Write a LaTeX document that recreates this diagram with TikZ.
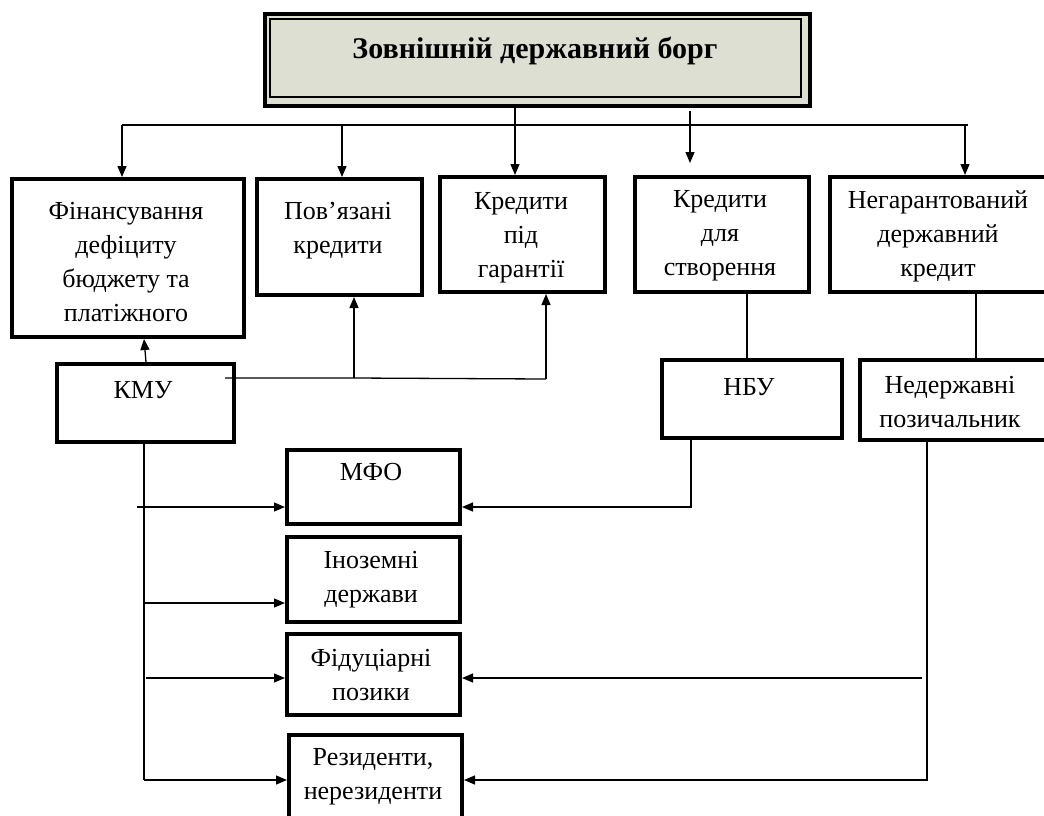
\documentclass[tikz,border=0pt]{standalone}
\usepackage{fontspec}
\setmainfont{Liberation Serif}
\usetikzlibrary{arrows.meta}
\definecolor{titlefill}{HTML}{DDDFD3}
\begin{document}
\begin{tikzpicture}[x=1pt,y=-1pt,
  box/.style={draw=black, line width=4pt, rectangle, inner sep=0pt, anchor=north west},
  txt/.style={font=\fontsize{26}{34}\selectfont, align=center, inner sep=0pt},
  conn/.style={draw=black, line width=1.3pt},
  arr/.style={conn, -{Triangle[length=11pt,width=9pt]}}]
\clip (0,0) rectangle (1044,815);
\fill[white] (0,0) rectangle (1044,815);

% title
\node[box, fill=titlefill, minimum width=545pt, minimum height=92pt] (title) at (263,12) {};
\draw[line width=1.5pt] (270,19) rectangle (801,97);
\node[txt, font=\fontsize{30}{34}\selectfont\bfseries] (titlet) at (535,51) {Зовнішній державний борг};

% top row boxes
\node[box, minimum width=232pt, minimum height=158pt] (fin) at (10,177) {};
\node[box, minimum width=165pt, minimum height=116pt] (pov) at (255,177) {};
\node[box, minimum width=165pt, minimum height=115pt] (gar) at (438,175) {};
\node[box, minimum width=174pt, minimum height=115pt] (stv) at (633,175) {};
\node[box, minimum width=240pt, minimum height=115pt] (neg) at (828,175) {};

\node[txt] (fint) at (126,262) {Фінансування\\дефіциту\\бюджету та\\платіжного};
\node[txt] (povt) at (338,231) {Пов’язані\\кредити};
\node[txt] (gart) at (521,238) {Кредити\\під\\гарантії};
\node[txt] (stvt) at (720,236) {Кредити\\для\\створення};
\node[txt] (negt) at (938,236) {Негарантований\\державний\\кредит};

% second row
\node[box, minimum width=177pt, minimum height=78pt] (kmu) at (55,362) {};
\node[box, minimum width=180pt, minimum height=78pt] (nbu) at (660,358) {};
\node[box, minimum width=220pt, minimum height=80pt] (ned) at (858,358) {};
\node[txt] (kmut) at (143,390) {КМУ};
\node[txt] (nbut) at (749,387) {НБУ};
\node[txt] (nedt) at (950,402) {Недержавні\\позичальник};

% lower boxes
\node[box, minimum width=173pt, minimum height=74pt] (mfo) at (285,448) {};
\node[box, minimum width=173pt, minimum height=85pt] (ino) at (285,535) {};
\node[box, minimum width=173pt, minimum height=81pt] (fid) at (285,632) {};
\node[box, minimum width=173pt, minimum height=100pt] (rez) at (287,733) {};
\node[txt] (mfot) at (371,472) {МФО};
\node[txt] (inot) at (371,580) {Іноземні\\держави};
\node[txt] (fidt) at (371,675) {Фідуціарні\\позики};
\node[txt] (rezt) at (373,777) {Резиденти,\\нерезиденти};

% top bus
\coordinate (bL) at (122,125);
\coordinate (bR) at (968,125);
\draw[conn] (bL) -- (bR);
\coordinate (b1) at (122,125);
\coordinate (b2) at (342,125);
\coordinate (b5) at (965,125);
\draw[arr] (b1) -- (b1 |- fin.north);
\draw[arr] (b2) -- (b2 |- pov.north);
\draw[arr] (title.south -| 515,0) -- (515,0 |- gar.north);
\coordinate (s4) at (690,111);
\coordinate (e4) at (690,163);
\draw[arr] (s4) -- (e4);
\draw[arr] (b5) -- (b5 |- neg.north);

% KMU up connections
\draw[arr] (kmu.north -| 146,0) -- (144,0 |- fin.south);
\coordinate (k0) at (225,378);
\coordinate (k1) at (354,378);
\coordinate (k2) at (546,379);
\draw[conn] (k0) -- (k1) -- (k2);
\draw[arr] (k1) -- (k1 |- pov.south);
\draw[arr] (k2) -- (k2 |- gar.south);

% vertical links
\draw[conn] (stv.south -| 747,0) -- (747,0 |- nbu.north);
\draw[conn] (neg.south -| 976,0) -- (976,0 |- ned.north);

% KMU down trunk
\coordinate (t1) at (144,780);
\draw[conn] (kmu.south -| t1) -- (t1);
\coordinate (a1) at (137,507);
\coordinate (a2) at (144,603);
\coordinate (a3) at (146,678);
\coordinate (a4) at (144,780);
\draw[arr] (a1) -- (a1 -| mfo.west);
\draw[arr] (a2) -- (a2 -| ino.west);
\draw[arr] (a3) -- (a3 -| fid.west);
\draw[arr] (a4) -- (a4 -| rez.west);

% NBU to MFO
\coordinate (n1) at (691,507);
\draw[arr] (nbu.south -| n1) -- (n1) -- (n1 -| mfo.east);

% Nederzhavni to Rez and Fid
\coordinate (d1) at (927,780);
\draw[arr] (ned.south -| d1) -- (d1) -- (d1 -| rez.east);
\coordinate (d2) at (922,678);
\draw[arr] (d2) -- (d2 -| fid.east);
\end{tikzpicture}
\end{document}
